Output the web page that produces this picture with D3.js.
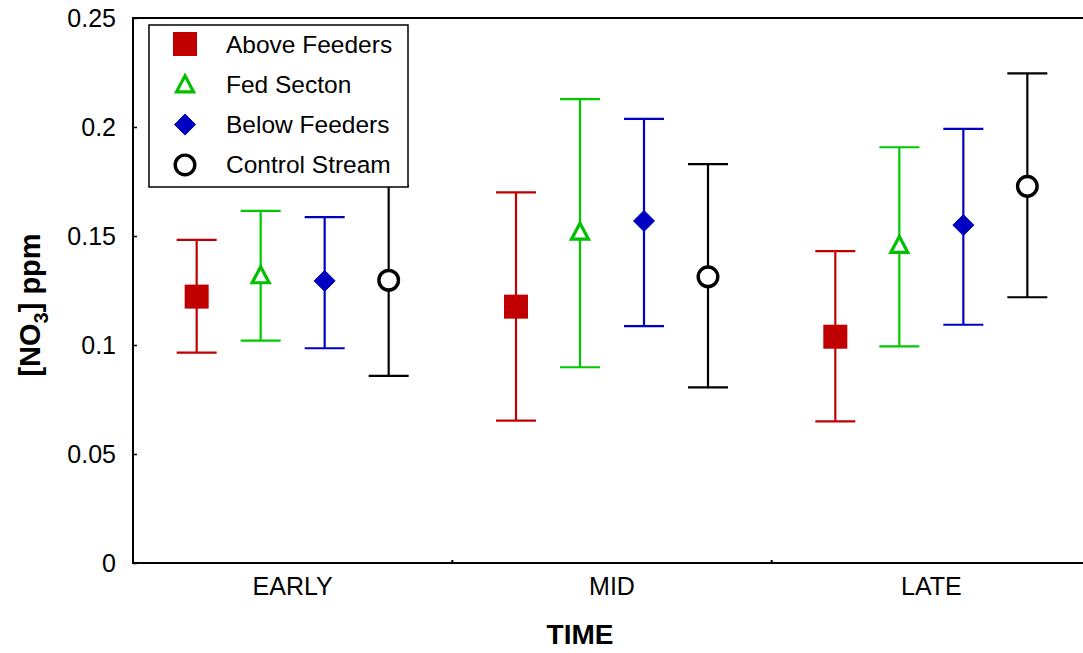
<!DOCTYPE html>
<html>
<head>
<meta charset="utf-8">
<script src="https://cdn.jsdelivr.net/npm/d3@7"></script>
<style>
  body { margin: 0; background: #fff; }
  svg { font-family: "Liberation Sans", Arial, sans-serif; }
</style>
</head>
<body>
<svg id="chart"></svg>
<script>
// data
const times = ["EARLY", "MID", "LATE"];
const series = ["Above Feeders", "Fed Secton", "Below Feeders", "Control Stream"];
const yTicks = [0, 0.05, 0.1, 0.15, 0.2, 0.25];

const meanAbove = [0.1222, 0.1176, 0.1038];
const upperAbove = [0.1482, 0.1700, 0.1431];
const lowerAbove = [0.0965, 0.0653, 0.0650];

const meanFed = [0.1320, 0.1520, 0.1459];
const upperFed = [0.1615, 0.2128, 0.1907];
const lowerFed = [0.1020, 0.0898, 0.0994];

const meanBelow = [0.1294, 0.1569, 0.1550];
const upperBelow = [0.1587, 0.2037, 0.1991];
const lowerBelow = [0.0985, 0.1087, 0.1093];

const meanControl = [0.1297, 0.1313, 0.1728];
const upperControl = [0.1730, 0.1830, 0.2246];
const lowerControl = [0.0858, 0.0806, 0.1219];

const means = [meanAbove, meanFed, meanBelow, meanControl];
const uppers = [upperAbove, upperFed, upperBelow, upperControl];
const lowers = [lowerAbove, lowerFed, lowerBelow, lowerControl];
const lineColors = ["#c00000", "#00c800", "#0000c0", "#000000"];
const markColors = ["#c00000", "#00c000", "#0000c0", "#000000"];

//window setting
const width = 1083;
const height = 653;
const margin = { top: 18, right: -8, bottom: 90, left: 133 };
const svg = d3.select("#chart").attr("width", width).attr("height", height);

const x = d3.scaleBand().domain(times).range([margin.left, width - margin.right]);
const sx = d3.scaleBand().domain(series).range([-128, 128]);
const y = d3.scaleLinear().domain([0, 0.25]).range([height - margin.bottom, margin.top]);

const rows = [];
series.forEach((s, i) => {
  times.forEach((t, j) => {
    rows.push({ s: s, i: i, t: t, mean: means[i][j], hi: uppers[i][j], lo: lowers[i][j] });
  });
});

// markers
const drawMarker = (sel, i) => {
  if (i === 0) {
    sel.append("rect").attr("x", -12).attr("y", -12).attr("width", 24).attr("height", 24)
      .attr("fill", markColors[i]);
  } else if (i === 1) {
    sel.append("path").attr("d", "M0,-8.5L8.5,7.5L-8.5,7.5Z")
      .attr("fill", "#fff").attr("stroke", markColors[i]).attr("stroke-width", 3.2)
      .attr("stroke-linejoin", "miter");
  } else if (i === 2) {
    sel.append("path").attr("d", "M0,-10.5L10.5,0L0,10.5L-10.5,0Z")
      .attr("fill", markColors[i]).attr("stroke", markColors[i]).attr("stroke-width", 1)
      .attr("stroke-linejoin", "round");
  } else {
    sel.append("circle").attr("r", 9.8)
      .attr("fill", "#fff").attr("stroke", markColors[i]).attr("stroke-width", 3.4);
  }
};

// frame
svg.append("rect")
  .attr("x", margin.left).attr("y", margin.top)
  .attr("width", width - margin.right - margin.left)
  .attr("height", height - margin.bottom - margin.top)
  .attr("fill", "none").attr("stroke", "#000").attr("stroke-width", 2);

// y axis
const yAxis = d3.axisLeft(y).tickValues(yTicks).tickSize(-4).tickPadding(17)
  .tickFormat(d => d === 0 ? "0" : d3.format("")(d));
const gy = svg.append("g").attr("transform", `translate(${margin.left},0)`).call(yAxis);
gy.select(".domain").remove();
gy.selectAll("line").attr("stroke-width", 1.5);
gy.selectAll("text").style("font-size", "25px").attr("fill", "#000");

// x axis
const xAxis = d3.axisBottom(x).tickSize(0).tickPadding(14);
const gx = svg.append("g").attr("transform", `translate(0,${height - margin.bottom})`).call(xAxis);
gx.select(".domain").remove();
gx.selectAll("text").style("font-size", "25px").attr("fill", "#000");
gx.selectAll(".bound")
  .data(times.slice(1))
  .enter()
  .append("line")
  .attr("class", "bound")
  .attr("x1", d => x(d)).attr("x2", d => x(d))
  .attr("y1", 0).attr("y2", -3)
  .attr("stroke", "#000").attr("stroke-width", 2);

// titles
svg.append("text")
  .attr("x", 580).attr("y", 644)
  .attr("text-anchor", "middle")
  .style("font-size", "28px").style("font-weight", "bold")
  .text("TIME");

const yt = svg.append("text")
  .attr("transform", "translate(40,305) rotate(-90)")
  .attr("text-anchor", "middle")
  .style("font-size", "29px").style("font-weight", "bold");
yt.append("tspan").text("[NO");
yt.append("tspan").attr("dy", 8).style("font-size", "20px").text("3");
yt.append("tspan").attr("dy", -8).text("] ppm");

// error bars
const bars = svg.selectAll(".bar")
  .data(rows)
  .enter()
  .append("g")
  .attr("class", "bar")
  .attr("transform", d => `translate(${x(d.t) + x.bandwidth() / 2 + sx(d.s) + sx.bandwidth() / 2},0)`);
bars.append("line")
  .attr("x1", 0).attr("x2", 0)
  .attr("y1", d => y(d.hi)).attr("y2", d => y(d.lo))
  .attr("stroke", d => lineColors[d.i]).attr("stroke-width", 2.2);
bars.append("line")
  .attr("x1", -20).attr("x2", 20)
  .attr("y1", d => y(d.hi)).attr("y2", d => y(d.hi))
  .attr("stroke", d => lineColors[d.i]).attr("stroke-width", 2.2);
bars.append("line")
  .attr("x1", -20).attr("x2", 20)
  .attr("y1", d => y(d.lo)).attr("y2", d => y(d.lo))
  .attr("stroke", d => lineColors[d.i]).attr("stroke-width", 2.2);
bars.each(function (d) {
  const m = d3.select(this).append("g").attr("transform", `translate(0,${y(d.mean)})`);
  drawMarker(m, d.i);
});

// legend
const lgd = svg.append("g").attr("transform", "translate(149,25)");
lgd.append("rect")
  .attr("width", 259).attr("height", 162)
  .attr("fill", "#fff").attr("stroke", "#000").attr("stroke-width", 1.5);
series.forEach((s, i) => {
  const row = lgd.append("g").attr("transform", `translate(0,${19 + i * 40.3})`);
  drawMarker(row.append("g").attr("transform", "translate(36,0)"), i);
  row.append("text")
    .attr("x", 77).attr("y", 0).attr("dy", "0.35em")
    .style("font-size", "24.5px")
    .text(s);
});
</script>
</body>
</html>
